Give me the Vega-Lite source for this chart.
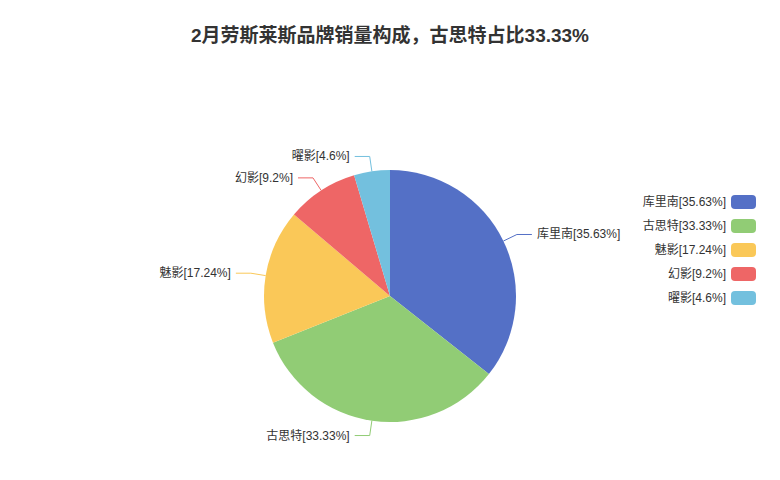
{
  "$schema": "https://vega.github.io/schema/vega-lite/v6.json",
  "width": 780,
  "height": 368,
  "autosize": "none",
  "padding": {"top": 112, "left": 0, "right": 0, "bottom": 0},
  "background": "#ffffff",
  "title": {
    "text": "2月劳斯莱斯品牌销量构成，古思特占比33.33%",
    "anchor": "middle",
    "offset": 66,
    "fontSize": 19,
    "fontWeight": "bold",
    "color": "#333333"
  },
  "data": {
    "values": [
      {"idx": 1, "brand": "库里南", "count": 31, "pct": 35.63},
      {"idx": 2, "brand": "古思特", "count": 29, "pct": 33.33},
      {"idx": 3, "brand": "魅影", "count": 15, "pct": 17.24},
      {"idx": 4, "brand": "幻影", "count": 8, "pct": 9.2},
      {"idx": 5, "brand": "曜影", "count": 4, "pct": 4.6}
    ]
  },
  "transform": [
    {"joinaggregate": [{"op": "sum", "field": "count", "as": "total"}]},
    {
      "window": [{"op": "sum", "field": "count", "as": "cum"}],
      "sort": [{"field": "idx", "order": "ascending"}],
      "frame": [null, 0]
    },
    {"calculate": "(datum.cum - datum.count / 2) / datum.total * 2 * PI", "as": "mid"},
    {"calculate": "datum.brand + '[' + datum.pct + '%]'", "as": "label"},
    {"calculate": "sin(datum.mid) >= 0 ? 'right' : 'left'", "as": "side"}
  ],
  "layer": [
    {
      "mark": {"type": "arc", "outerRadius": 126},
      "encoding": {
        "theta": {"field": "count", "type": "quantitative", "stack": true},
        "order": {"field": "idx", "type": "quantitative", "sort": "ascending"},
        "color": {
          "field": "label",
          "type": "nominal",
          "sort": {"field": "idx"},
          "scale": {
            "range": ["#5470c6", "#91cc75", "#fac858", "#ee6666", "#73c0de"]
          },
          "legend": {
            "orient": "none",
            "legendX": 731,
            "legendY": 77.5,
            "title": null,
            "padding": 0,
            "symbolType": "M-0.68,-0.56L0.68,-0.56Q1,-0.56 1,-0.24L1,0.24Q1,0.56 0.68,0.56L-0.68,0.56Q-1,0.56 -1,0.24L-1,-0.24Q-1,-0.56 -0.68,-0.56Z",
            "symbolSize": 625,
            "symbolStrokeWidth": 0,
            "labelAlign": "right",
            "labelOffset": -30,
            "labelFontSize": 12,
            "labelColor": "#333333",
            "rowPadding": 4
          }
        }
      }
    },
    {
      "transform": [
        {"fold": ["p0", "p1", "p2"], "as": ["key", "dummy"]},
        {"calculate": "datum.key == 'p0' ? 126 : 141", "as": "rr"},
        {"calculate": "sin(datum.mid) * datum.rr + (datum.key == 'p2' ? (datum.side == 'right' ? 15 : -15) : 0)", "as": "lx"},
        {"calculate": "cos(datum.mid) * datum.rr", "as": "ly"}
      ],
      "mark": {"type": "line", "strokeWidth": 1, "interpolate": "linear"},
      "encoding": {
        "x": {"field": "lx", "type": "quantitative", "scale": {"domain": [-390, 390]}, "axis": null},
        "y": {"field": "ly", "type": "quantitative", "scale": {"domain": [-184, 184]}, "axis": null},
        "detail": {"field": "brand"},
        "order": {"field": "key"},
        "stroke": {
          "field": "brand",
          "type": "nominal",
          "scale": {
            "domain": ["库里南", "古思特", "魅影", "幻影", "曜影"],
            "range": ["#5470c6", "#91cc75", "#fac858", "#ee6666", "#73c0de"]
          },
          "legend": null
        }
      }
    },
    {
      "transform": [
        {"filter": "datum.side == 'right'"},
        {"calculate": "sin(datum.mid) * 141 + 15", "as": "tx"},
        {"calculate": "cos(datum.mid) * 141", "as": "ty"}
      ],
      "mark": {"type": "text", "align": "left", "baseline": "middle", "dx": 5, "fontSize": 12, "color": "#333333"},
      "encoding": {
        "x": {"field": "tx", "type": "quantitative", "scale": {"domain": [-390, 390]}, "axis": null},
        "y": {"field": "ty", "type": "quantitative", "scale": {"domain": [-184, 184]}, "axis": null},
        "text": {"field": "label"}
      }
    },
    {
      "transform": [
        {"filter": "datum.side == 'left'"},
        {"calculate": "sin(datum.mid) * 141 - 15", "as": "tx"},
        {"calculate": "cos(datum.mid) * 141", "as": "ty"}
      ],
      "mark": {"type": "text", "align": "right", "baseline": "middle", "dx": -5, "fontSize": 12, "color": "#333333"},
      "encoding": {
        "x": {"field": "tx", "type": "quantitative", "scale": {"domain": [-390, 390]}, "axis": null},
        "y": {"field": "ty", "type": "quantitative", "scale": {"domain": [-184, 184]}, "axis": null},
        "text": {"field": "label"}
      }
    }
  ],
  "config": {
    "font": "Liberation Sans, Noto Sans CJK SC, sans-serif",
    "view": {"stroke": null}
  }
}
